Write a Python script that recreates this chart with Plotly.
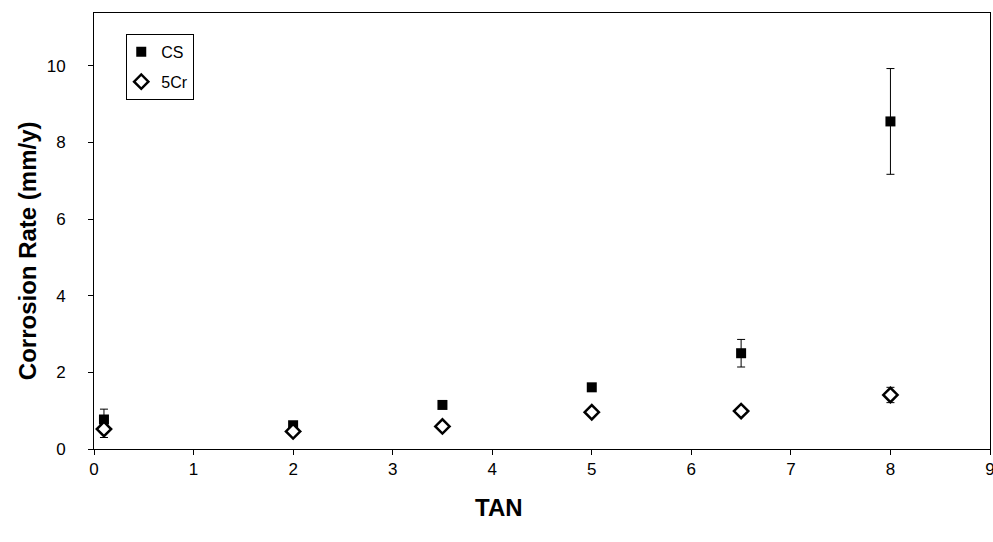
import plotly.graph_objects as go

tan = [0.1, 2, 3.5, 5, 6.5, 8]
cs = [0.77, 0.62, 1.15, 1.61, 2.5, 8.55]
cs_err = [0.27, 0.05, 0.05, 0.05, 0.36, 1.38]
cr5 = [0.52, 0.46, 0.59, 0.96, 0.99, 1.41]
cr5_err = [0.22, 0.05, 0.06, 0.08, 0.09, 0.2]

x_ticks = [0, 1, 2, 3, 4, 5, 6, 7, 8, 9]
y_ticks = [0, 2, 4, 6, 8, 10]

fig = go.Figure()
fig.add_trace(go.Scatter(
    x=tan, y=cs, mode="markers", name="CS", legendgroup="a",
    marker=dict(symbol="square", size=10, color="black"),
    error_y=dict(type="data", array=cs_err, color="black", thickness=1, width=4),
))
fig.add_trace(go.Scatter(
    x=tan, y=cr5, mode="markers", name="5Cr", legendgroup="b",
    marker=dict(symbol="diamond", size=11, color="white", line=dict(color="black", width=2.5)),
    error_y=dict(type="data", array=cr5_err, color="black", thickness=1, width=4),
))

font = "Liberation Sans, Arial, sans-serif"
fig.update_layout(
    width=993, height=542,
    margin=dict(l=94, r=3, t=13, b=93),
    plot_bgcolor="white", paper_bgcolor="white",
    font=dict(family=font, size=17, color="black"),
    showlegend=True,
    legend=dict(x=0.036, y=0.952, xanchor="left", yanchor="top",
                bordercolor="black", borderwidth=1, bgcolor="white",
                font=dict(size=16), itemwidth=30, tracegroupgap=6,
                indentation=-6),
    xaxis=dict(range=[0, 9], tickvals=x_ticks, ticks="outside", ticklen=5,
               tickcolor="black", showline=True, linecolor="black", linewidth=1,
               mirror=True, showgrid=False, zeroline=False, automargin=False,
               ticklabeloverflow="allow"),
    yaxis=dict(range=[0, 11.38], tickvals=y_ticks, ticks="outside", ticklen=5,
               tickcolor="black", showline=True, linecolor="black", linewidth=1,
               mirror=True, showgrid=False, zeroline=False, automargin=False,
               ticklabelstandoff=19),
    annotations=[
        dict(text="<b>TAN</b>", xref="paper", yref="paper", x=0.452, y=-0.135,
             xanchor="center", yanchor="middle", showarrow=False, font=dict(size=24)),
        dict(text="<b>Corrosion Rate (mm/y)</b>", xref="paper", yref="paper",
             x=-0.0748, y=0.456, xanchor="center", yanchor="middle", textangle=-90,
             showarrow=False, font=dict(size=24)),
    ],
)
fig.write_html("out.html", config={"displayModeBar": False},
               post_script="document.body.style.margin='0';document.body.style.overflow='hidden';")
